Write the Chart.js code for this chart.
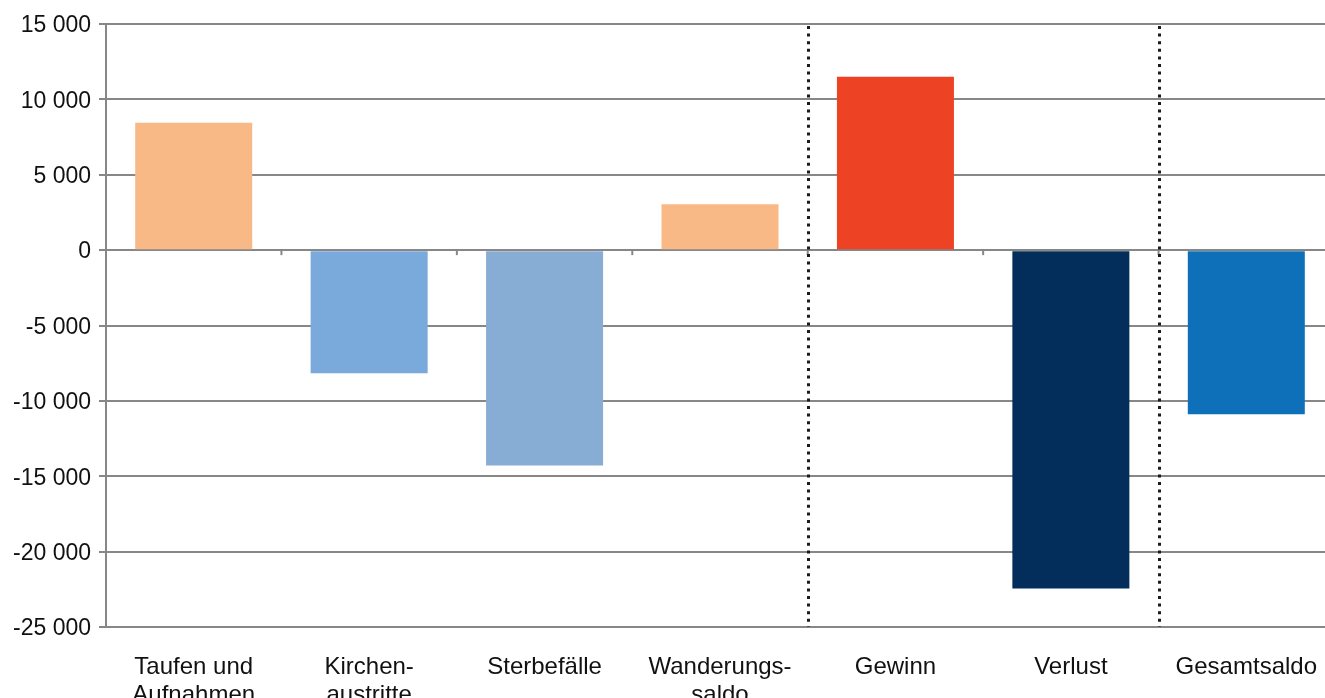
<!DOCTYPE html>
<html>
<head>
<meta charset="utf-8">
<script src="https://cdn.jsdelivr.net/npm/chart.js@4/dist/chart.umd.min.js"></script>
<style>
  html, body { margin: 0; padding: 0; overflow: hidden; background: #fff; }
  #box { width: 1336px; height: 730px; }
</style>
</head>
<body>
<div id="box"><canvas id="graph" width="1336" height="730"></canvas></div>
<script>
// Catégories et valeurs
const kategorien = [
    ['Taufen und', 'Aufnahmen'],
    ['Kirchen-', 'austritte'],
    'Sterbefälle',
    ['Wanderungs-', 'saldo'],
    'Gewinn',
    'Verlust',
    'Gesamtsaldo'
];
const werte = [8450, -8170, -14280, 3050, 11500, -22440, -10890];
const farben = ['#f9b987', '#7aaadb', '#87add4', '#f9b987', '#ee4225', '#032e5c', '#0d70b9'];
const yTicks = [15000, 10000, 5000, 0, -5000, -10000, -15000, -20000, -25000];
// séparateurs pointillés (après la catégorie d'index donné)
const trenner = [3, 5];

const grau = '#878787';

// Dessine les petits traits sur la ligne zéro et les lignes pointillées
const extras = {
    id: 'extras',
    afterDatasetsDraw(chart) {
        const ctx = chart.ctx;
        const x = chart.scales.x, y = chart.scales.y;
        const y0 = y.getPixelForValue(0);
        const area = chart.chartArea;
        ctx.save();
        // traits sous la ligne zéro aux limites des catégories
        ctx.strokeStyle = grau;
        ctx.lineWidth = 2;
        for (let i = 1; i < kategorien.length; i++) {
            const bx = (x.getPixelForValue(i - 1) + x.getPixelForValue(i)) / 2;
            ctx.beginPath();
            ctx.moveTo(bx, y0);
            ctx.lineTo(bx, y0 + 5);
            ctx.stroke();
        }
        // lignes pointillées
        ctx.strokeStyle = '#1a1a1a';
        ctx.lineWidth = 3;
        ctx.setLineDash([3, 4.6]);
        trenner.forEach(i => {
            const bx = Math.round((x.getPixelForValue(i) + x.getPixelForValue(i + 1)) / 2) + 0.5;
            ctx.beginPath();
            ctx.moveTo(bx, area.top + 2);
            ctx.lineTo(bx, area.bottom);
            ctx.stroke();
        });
        ctx.restore();
    }
};

const ctx = document.getElementById('graph').getContext('2d');
new Chart(ctx, {
    type: 'bar',
    data: {
        labels: kategorien,
        datasets: [{
            data: werte,
            backgroundColor: farben,
            borderWidth: 0,
            barPercentage: 0.667,
            categoryPercentage: 1
        }]
    },
    options: {
        responsive: false,
        animation: false,
        devicePixelRatio: 1,
        layout: { padding: { top: 24, left: 0, right: 0, bottom: 0 } },
        plugins: { legend: { display: false }, tooltip: { enabled: false } },
        scales: {
            x: {
                grid: { display: false },
                border: { display: false },
                ticks: {
                    color: '#111',
                    font: { family: 'Liberation Sans, Arial, sans-serif', size: 24, lineHeight: 1.15 },
                    padding: 19,
                    maxRotation: 0,
                    autoSkip: false
                },
                afterFit(scale) { scale.height = 730 - 627; }
            },
            y: {
                min: -25000,
                max: 15000,
                afterBuildTicks(scale) { scale.ticks = yTicks.map(v => ({ value: v })); },
                afterFit(scale) { scale.width = 106; },
                grid: { color: grau, lineWidth: 2, tickLength: 7 },
                border: { color: grau, width: 2 },
                ticks: {
                    color: '#111',
                    font: { family: 'Liberation Sans, Arial, sans-serif', size: 23 },
                    padding: 8,
                    labelOffset: 2,
                    callback: v => String(v).replace(/\B(?=(\d{3})+(?!\d))/g, ' ')
                }
            }
        }
    },
    plugins: [extras]
});
</script>
</body>
</html>
